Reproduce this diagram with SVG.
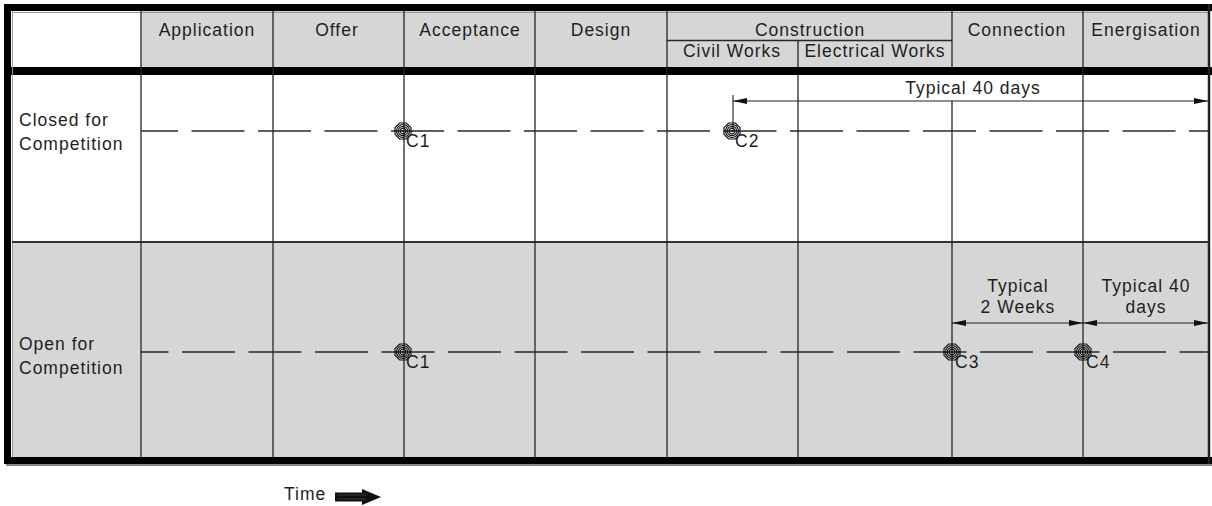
<svg xmlns="http://www.w3.org/2000/svg" width="1212" height="506" viewBox="0 0 1212 506">
<style>
text{font-family:"Liberation Sans",Arial,sans-serif;font-size:17.5px;letter-spacing:1px;fill:#1e1e1e}
.m{text-anchor:middle}
.col{stroke:#262626;stroke-width:1.3;fill:none}
.dash{stroke:#2a2a2a;stroke-width:1.3;stroke-dasharray:53 13.5;fill:none}
.dim{stroke:#1e1e1e;stroke-width:1.1;fill:none}
.mk{stroke:#111;stroke-width:1.2;fill:none}
</style>
<defs>
<marker id="ah" viewBox="0 0 14 6" refX="14" refY="3" markerWidth="14" markerHeight="6" markerUnits="userSpaceOnUse" orient="auto-start-reverse">
<path d="M0,0 L14,3 L0,6 Z" fill="#111"/>
</marker>
<g id="tgt">
<polygon points="-3.3,-8 3.3,-8 8,-3.3 8,3.3 3.3,8 -3.3,8 -8,3.3 -8,-3.3" class="mk"/>
<circle r="6.5" class="mk"/>
<circle r="4.6" class="mk"/>
<circle r="2.8" class="mk" stroke-width="1.6"/>
<circle r="1.1" fill="#111"/>
</g>
</defs>
<rect x="0" y="0" width="1212" height="506" fill="#fff"/>
<rect x="141" y="11" width="1068" height="56" fill="#d6d6d6"/>
<rect x="12" y="242" width="1197" height="215" fill="#d6d6d6"/>
<g id="frame">
<rect x="4" y="4" width="1208" height="7" fill="#000"/>
<rect x="4" y="4" width="7" height="460" rx="2" fill="#000"/>
<rect x="4" y="457" width="1208" height="7" fill="#000"/>
<rect x="6" y="464" width="1206" height="2" fill="#888"/>
<rect x="11" y="67" width="1201" height="8" fill="#000"/>
<line x1="12.5" y1="11" x2="12.5" y2="457" stroke="#999" stroke-width="1"/>
<line x1="12" y1="12.5" x2="1208" y2="12.5" stroke="#999" stroke-width="1"/>
<line x1="1209" y1="4" x2="1209" y2="464" stroke="#222" stroke-width="2.5"/>
<line x1="12" y1="242" x2="1209" y2="242" stroke="#333" stroke-width="2"/>
</g>
<g id="columns">
<line class="col" x1="141" y1="11" x2="141" y2="457"/>
<line class="col" x1="273" y1="11" x2="273" y2="457"/>
<line class="col" x1="404" y1="11" x2="404" y2="457"/>
<line class="col" x1="535" y1="11" x2="535" y2="457"/>
<line class="col" x1="667" y1="11" x2="667" y2="457"/>
<line class="col" x1="798" y1="40" x2="798" y2="67"/>
<line class="col" x1="798" y1="75" x2="798" y2="457"/>
<line class="col" x1="952" y1="11" x2="952" y2="67"/>
<line class="col" x1="952" y1="101" x2="952" y2="457"/>
<line class="col" x1="1083" y1="11" x2="1083" y2="457"/>
<line class="col" x1="667" y1="40.5" x2="952" y2="40.5"/>
</g>
<g id="header">
<text class="m" x="207" y="36">Application</text>
<text class="m" x="337" y="36">Offer</text>
<text class="m" x="470" y="36">Acceptance</text>
<text class="m" x="601" y="36">Design</text>
<text class="m" x="810" y="36">Construction</text>
<text class="m" x="732" y="57">Civil Works</text>
<text class="m" x="875" y="57">Electrical Works</text>
<text class="m" x="1017" y="36">Connection</text>
<text class="m" x="1146" y="36">Energisation</text>
</g>
<g id="rows">
<text x="19" y="126">Closed for</text>
<text x="19" y="150">Competition</text>
<text x="19" y="350">Open for</text>
<text x="19" y="374">Competition</text>
</g>
<g id="connectors">
<line class="dash" x1="141" y1="131" x2="1208" y2="131" stroke-dashoffset="16"/>
<line class="dash" x1="141" y1="352" x2="1208" y2="352" stroke-dashoffset="25.5"/>
<line class="dim" x1="733" y1="95" x2="733" y2="131"/>
<line class="dim" x1="733" y1="101" x2="1208" y2="101" marker-start="url(#ah)" marker-end="url(#ah)"/>
<line class="dim" x1="952" y1="323" x2="1083" y2="323" marker-start="url(#ah)" marker-end="url(#ah)"/>
<line class="dim" x1="1083" y1="323" x2="1208" y2="323" marker-start="url(#ah)" marker-end="url(#ah)"/>
</g>
<g id="dims">
<text class="m" x="973" y="94">Typical 40 days</text>
<text class="m" x="1018" y="292">Typical</text>
<text class="m" x="1018" y="313">2 Weeks</text>
<text class="m" x="1146" y="292">Typical 40</text>
<text class="m" x="1146" y="313">days</text>
</g>
<g id="C1a"><use href="#tgt" x="403" y="131"/><text x="406" y="147">C1</text></g>
<g id="C2"><use href="#tgt" x="732" y="131"/><text x="735" y="147">C2</text></g>
<g id="C1b"><use href="#tgt" x="403" y="352"/><text x="406" y="368">C1</text></g>
<g id="C3"><use href="#tgt" x="952" y="352"/><text x="955" y="368">C3</text></g>
<g id="C4"><use href="#tgt" x="1083" y="352"/><text x="1086" y="368">C4</text></g>
<g id="time">
<text x="284" y="500">Time</text>
<polygon points="335,492.5 362,492.5 362,489 381,497 362,505 362,501.5 335,501.5" fill="#111"/>
<line x1="337" y1="495" x2="366" y2="495" stroke="#555" stroke-width="0.6"/>
<line x1="337" y1="499" x2="366" y2="499" stroke="#555" stroke-width="0.6"/>
</g>
</svg>
